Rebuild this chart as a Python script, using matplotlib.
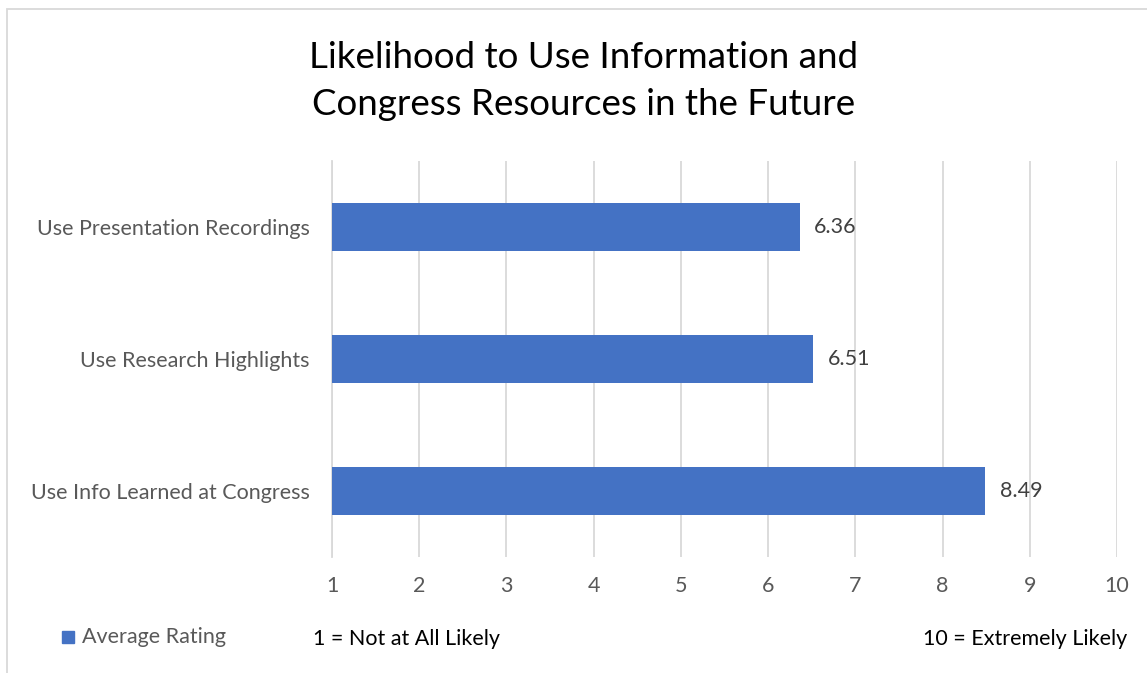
import matplotlib.pyplot as plt
from matplotlib.patches import Rectangle

categories = ["Use Info Learned at Congress", "Use Research Highlights", "Use Presentation Recordings"]
ratings = [8.49, 6.51, 6.36]
ticks = list(range(1, 11))

plt.rcParams['font.family'] = ['Lato', 'DejaVu Sans']

fig = plt.figure(figsize=(11.47, 6.73), dpi=100)
W, H = 1147, 673
fs = 15.5

# axes box in pixel terms from the reference
ax = fig.add_axes([332 / W, 1 - 557 / H, (1117 - 332) / W, (557 - 161) / H])

ypos = range(len(categories))
ax.barh(ypos, [r - 1 for r in ratings], left=1, height=0.36, color="#4472C4", zorder=3)
for y, r in zip(ypos, ratings):
    ax.text(r + 0.17, y, f"{r:.2f}", va="center", ha="left", fontsize=fs, color="#404040")

ax.set_xlim(1, 10)
ax.set_ylim(-0.5, 2.5)
ax.set_xticks(ticks)
ax.set_xticklabels([str(t) for t in ticks], fontsize=fs, color="#595959")
ax.set_yticks(list(ypos))
ax.set_yticklabels(categories, fontsize=fs, color="#595959")
ax.tick_params(length=0, pad=14, axis="x")
ax.tick_params(length=0, pad=16, axis="y")
ax.xaxis.grid(True, color="#D9D9D9", linewidth=1.3, zorder=0)
for s in ["top", "right", "bottom"]:
    ax.spines[s].set_visible(False)
ax.spines["left"].set_color("#D9D9D9")
ax.spines["left"].set_linewidth(1.3)

fig.text(584 / W, 1 - 81 / H, "Likelihood to Use Information and\nCongress Resources in the Future",
         ha="center", va="center", fontsize=26.5, color="black", linespacing=1.5)

# legend and scale notes
fig.patches.append(Rectangle((62 / W, 1 - 643 / H), 12 / W, 12 / H, transform=fig.transFigure,
                             color="#4472C4", figure=fig))
fig.text(82 / W, 1 - 637 / H, "Average Rating", ha="left", va="center", fontsize=fs, color="#595959")
fig.text(313 / W, 1 - 639 / H, "1 = Not at All Likely", ha="left", va="center", fontsize=fs, color="black")
fig.text(1127 / W, 1 - 639 / H, "10 = Extremely Likely", ha="right", va="center", fontsize=fs, color="black")

# chart border
fig.patches.append(Rectangle((7 / W, -0.1), 1.2, 1 - 9 / H + 0.1, transform=fig.transFigure,
                             fill=False, edgecolor="#D9D9D9", linewidth=1.3, figure=fig))

fig.savefig("out.png", dpi=100, facecolor="white")
